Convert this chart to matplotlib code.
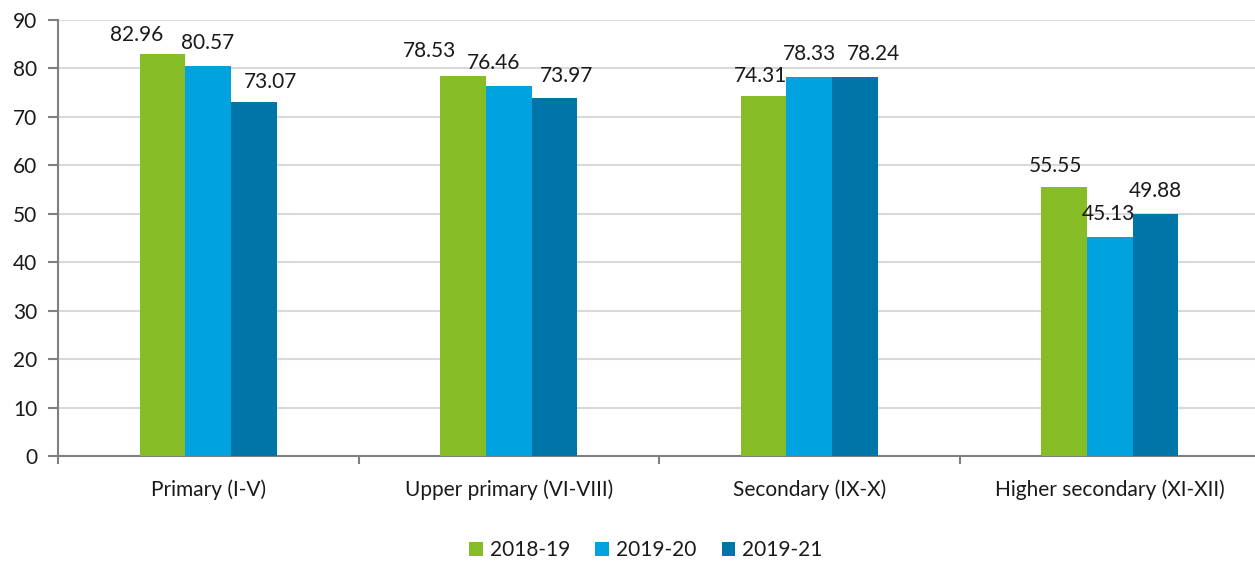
import matplotlib
matplotlib.use("Agg")
import matplotlib.pyplot as plt
from matplotlib.patches import Patch
import numpy as np

categories = ["Primary (I-V)", "Upper primary (VI-VIII)", "Secondary (IX-X)", "Higher secondary (XI-XII)"]
series_names = ["2018-19", "2019-20", "2019-21"]
values_2018_19 = [82.96, 78.53, 74.31, 55.55]
values_2019_20 = [80.57, 76.46, 78.33, 45.13]
values_2019_21 = [73.07, 73.97, 78.24, 49.88]
y_ticks = [0, 10, 20, 30, 40, 50, 60, 70, 80, 90]

colors = ["#86BC25", "#00A3E0", "#0076A8"]
# label offsets in pixels (dx, dy of label baseline above bar top)
label_offsets = [
    [(-26, 13), (-1, 17), (17, 14)],
    [(-34, 19), (-15, 17), (12, 16)],
    [(-3.5, 14), (0, 17), (18.5, 17)],
    [(-8.5, 15), (-1, 17), (0, 17)],
]

plt.rcParams['font.family'] = ['Lato', 'DejaVu Sans']
text_color = "#1a1a1a"
fs = 15

fig = plt.figure(figsize=(12.55, 5.63), dpi=100)
ax = fig.add_axes([58/1255, 107/563, (1260 - 58)/1255, (456-20)/563])

x = np.arange(len(categories))
w = 0.152
series = [values_2018_19, values_2019_20, values_2019_21]
for si, vals in enumerate(series):
    bars = ax.bar(x + (si - 1) * w, vals, width=w, color=colors[si], zorder=3,
                  label=series_names[si])
    for ci, (b, v) in enumerate(zip(bars, vals)):
        dx, dy = label_offsets[ci][si]
        ax.annotate(f"{v:.2f}", (b.get_x() + b.get_width()/2, v),
                    xytext=(dx, dy), textcoords='offset pixels',
                    ha='center', va='baseline', fontsize=fs, color=text_color,
                    zorder=5)

ax.set_xlim(-0.5, len(categories) - 0.5)
ax.set_ylim(0, 90)
ax.set_yticks(y_ticks)
ax.set_yticklabels([str(t) for t in y_ticks], fontsize=fs, color=text_color)
ax.yaxis.grid(True, color="#D9D9D9", linewidth=1.5, zorder=0)
ax.set_axisbelow(True)

ax.set_xticks(np.arange(-0.5, len(categories), 1.0))
ax.set_xticklabels([])
ax.set_xticks(x, minor=True)
ax.set_xticklabels(categories, minor=True, fontsize=fs, color=text_color)
ax.tick_params(axis='x', which='minor', length=0, pad=17)
ax.tick_params(axis='x', which='major', length=6, width=1.5, color="#808080", direction='out')
ax.tick_params(axis='y', length=7, width=1.5, color="#808080", pad=8)

for s in ['top', 'right']:
    ax.spines[s].set_visible(False)
for s in ['left', 'bottom']:
    ax.spines[s].set_color("#808080")
    ax.spines[s].set_linewidth(1.5)

handles = [Patch(facecolor=c, label=n) for c, n in zip(colors, series_names)]
leg = fig.legend(handles=handles, loc='center', bbox_to_anchor=(646/1255, 1 - 550/563),
                 ncol=3, frameon=False, fontsize=fs, handlelength=0.65, handleheight=0.65,
                 handletextpad=0.35, columnspacing=1.2)
for t in leg.get_texts():
    t.set_color(text_color)

fig.savefig("out.png", dpi=100)
